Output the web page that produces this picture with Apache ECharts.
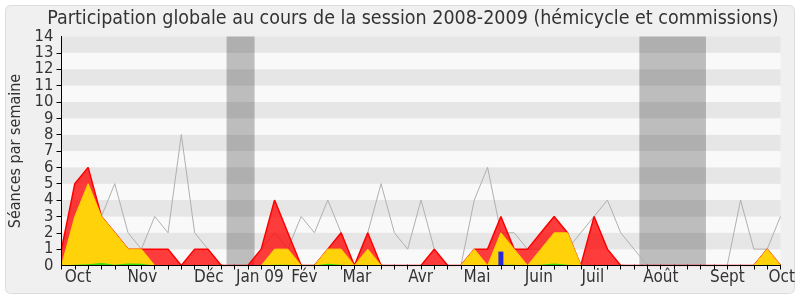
<!DOCTYPE html>
<html><head><meta charset="utf-8">
<script src="https://cdn.jsdelivr.net/npm/echarts@6/dist/echarts.min.js"></script>
<style>html,body{margin:0;padding:0;background:#fff;}#c{width:800px;height:300px;}</style>
</head><body><div id="c"></div>
<script>
// ---- data (one value per week, index 0 = first week of Oct 2008) ----
const presence   = [1,5,6,3,2,1,1,1,1,0,1,1,0,0,0,1,4,2,0,0,1,2,0,2,0,0,0,0,1,0,0,1,1,3,1,1,2,3,2,0,3,1,0,0,0,0,0,0,0,0,0,0,0,1,0];
const commission = [0,3,5,3,2,1,1,0,0,0,0,0,0,0,0,0,1,1,0,0,1,1,0,1,0,0,0,0,0,0,0,1,0,2,1,0,1,2,2,0,0,0,0,0,0,0,0,0,0,0,0,0,0,1,0];
const interv     = [0,0.05,0.08,0.15,0.05,0.12,0.1,0,0,0,0,0,0,0,0,0,0.05,0.05,0,0,0.1,0.05,0,0,0,0,0,0,0,0,0,0,0,0.05,0.05,0,0.05,0.12,0.05,0,0,0,0,0,0,0,0,0,0,0,0,0,0,0.05,0];
const mediane    = [0,2,3,3,5,2,1,3,2,8,2,1,0,0,0,1,2,1,3,2,4,2,0,2,5,2,1,4,1,0,0,4,6,2,2,1,1,2,1,2,3,4,2,1,0,0,0,0,0,0,0,4,1,1,3];
const questionsWeek = [33];
const questionsVal  = [0.85];
const vacances = [[12.4, 14.5], [43.4, 48.4]];
const monthLabels = ['Oct','Nov','Déc','Jan 09','Fév','Mar','Avr','Mai','Juin','Juil','Août','Sept','Oct'];
const monthPos    = [0.25, 4.95, 9.95, 13.1, 17.25, 21.1, 26.05, 30.2, 34.8, 39.05, 43.7, 48.7, 53.1];
const yTicks = [0,1,2,3,4,5,6,7,8,9,10,11,12,13,14];
const title = 'Participation globale au cours de la session 2008-2009 (hémicycle et commissions)';
const yName = 'Séances par semaine';
// --------------------------------------------------------------------

const FONT = "'DejaVu Sans Condensed', 'Liberation Sans Narrow', 'DejaVu Sans', sans-serif";
const nWeeks = presence.length;
const toPairs = arr => arr.map((v, i) => [i, v]);
const SUB = 20;
const labelMap = {};
monthPos.forEach((p, k) => { labelMap[Math.round(p * SUB)] = monthLabels[k]; });
const yMin = yTicks[0], yMax = yTicks[yTicks.length - 1];
const yLabelStyle = {fontSize: 16.5, lineHeight: 13, color: '#333', margin: 8, fontFamily: FONT, hideOverlap: false};

const chart = echarts.init(document.getElementById('c'), null, {renderer: 'canvas'});
const option = {
  animation: false,
  backgroundColor: '#ffffff',
  textStyle: {fontFamily: FONT},
  graphic: [
    {type: 'rect', z: -10, shape: {x: 5.5, y: 5.5, width: 789, height: 288, r: 5},
     style: {fill: '#f0f0f0', stroke: '#dcdcdc', lineWidth: 1}},
    {type: 'text', z: 10, x: 413, y: 19,
     style: {text: title, font: "19.5px " + FONT, fill: '#333333', textAlign: 'center', textVerticalAlign: 'middle'}}
  ],
  grid: {left: 61.5, right: 19.5, top: 36.5, bottom: 34.5, containLabel: false, outerBoundsMode: 'none'},
  xAxis: [
    {type: 'value', min: 0, max: nWeeks - 1, interval: 1, position: 'bottom', z: 10,
     axisLine: {show: true, onZero: false, lineStyle: {color: '#000', width: 1}},
     axisTick: {show: true, length: 4, lineStyle: {color: '#000'}},
     axisLabel: {show: false}, splitLine: {show: false}},
    {type: 'value', min: 0, max: (nWeeks - 1) * SUB, interval: 1, position: 'bottom',
     axisLine: {show: false}, axisTick: {show: false}, splitLine: {show: false},
     axisLabel: {show: true, align: 'left', margin: 4, fontSize: 17, color: '#333', fontFamily: FONT,
       formatter: v => labelMap[Math.round(v)] || ''}},
    {type: 'value', min: 0, max: nWeeks - 1, interval: 1, position: 'top',
     axisLine: {show: false}, axisTick: {show: true, length: 1, lineStyle: {color: '#555'}},
     axisLabel: {show: false}, splitLine: {show: false}}
  ],
  yAxis: [
    {type: 'value', min: yMin, max: yMax, interval: 1, z: 10, position: 'left', offset: 0,
     name: yName, nameLocation: 'middle', nameGap: 29, nameRotate: 90,
     nameTextStyle: {fontSize: 16, color: '#333', fontFamily: FONT},
     axisLine: {show: true, lineStyle: {color: '#000'}},
     axisTick: {show: true, length: 5, lineStyle: {color: '#000'}},
     axisLabel: Object.assign({showMinLabel: false, showMaxLabel: false,
       formatter: v => (v > yMin && v < yMax && yTicks.indexOf(v) >= 0 ? String(v) : '')}, yLabelStyle),
     splitLine: {show: false}, splitArea: {show: false}},
    {type: 'value', min: yMin, max: yMax, interval: 1, position: 'right', z: 0,
     axisLine: {show: true, lineStyle: {color: '#c8c8c8'}},
     axisTick: {show: false}, axisLabel: {show: false}, splitLine: {show: false},
     splitArea: {show: true, areaStyle: {color: ['#f9f9f9', '#e6e6e6']}}},
    {type: 'value', min: yMin, max: yMax, interval: 1, position: 'left', offset: 0, z: 10,
     axisLine: {show: false}, axisTick: {show: false}, splitLine: {show: false},
     axisLabel: Object.assign({showMinLabel: true, showMaxLabel: true,
       formatter: v => (v === yMin || v === yMax ? String(v) : '')}, yLabelStyle)}
  ],
  series: [
    {name: 'médiane', type: 'line', data: toPairs(mediane), symbol: 'none', z: 1,
     lineStyle: {color: '#b0b0b0', width: 1},
     markArea: {silent: true, itemStyle: {color: 'rgba(0,0,0,0.24)'},
       data: vacances.map(v => [{xAxis: v[0]}, {xAxis: v[1]}])}},
    {name: 'présence', type: 'line', data: toPairs(presence), symbol: 'none', z: 2,
     lineStyle: {color: '#ff0000', width: 1.5},
     areaStyle: {color: 'rgba(255,0,0,0.76)', opacity: 1, origin: 'start'}},
    {name: 'commission', type: 'line', data: toPairs(commission), symbol: 'none', z: 3,
     lineStyle: {color: '#ffd200', width: 1},
     areaStyle: {color: '#ffd20a', opacity: 1, origin: 'start'}},
    {name: 'interventions', type: 'line', data: toPairs(interv), symbol: 'none', z: 4,
     lineStyle: {width: 0},
     areaStyle: {color: '#33dd11', opacity: 1, origin: 'start'}},
    {name: 'questions', type: 'bar', barWidth: 5, z: 5,
     data: questionsWeek.map((w, k) => [w, questionsVal[k]]),
     itemStyle: {color: '#2828dc'}}
  ]
};
chart.setOption(option);
</script></body></html>
